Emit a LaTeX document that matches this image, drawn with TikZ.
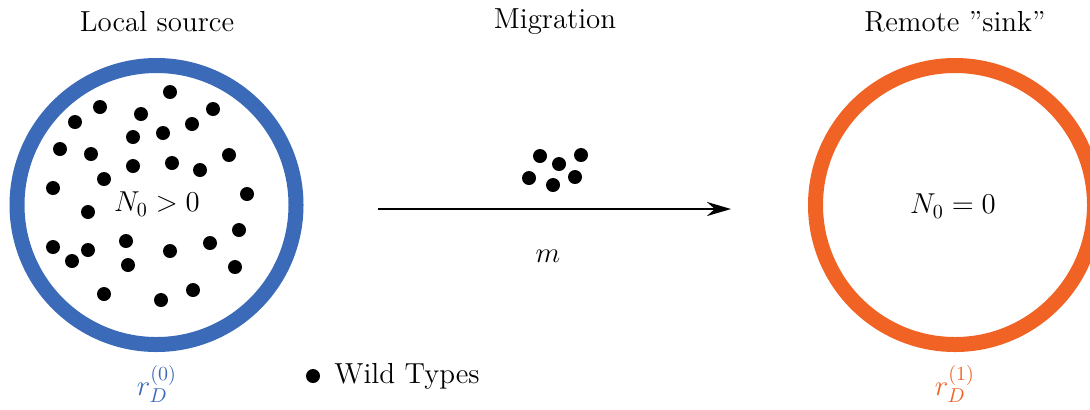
\documentclass[tikz,border=0pt]{standalone}
\usetikzlibrary{arrows.meta}
\definecolor{srcblue}{RGB}{59,106,184}
\definecolor{sinkorange}{RGB}{241,99,36}
\begin{document}
\begin{tikzpicture}[x=0.5pt,y=-0.5pt,
  lbl/.style={font=\fontsize{14.5}{17}\selectfont, inner sep=0pt},
  ring/.style={circle, line width=7.5pt, minimum size=139.5pt, inner sep=0pt},
  wt/.style={circle, fill=black, minimum size=7pt, inner sep=0pt}]
\useasboundingbox (0,0) rectangle (1090,409);
% titles
\node[lbl] (tsrc) at (157,22) {Local source};
\node[lbl] (tmig) at (555,22) {Migration};
\node[lbl] (tsink) at (955,22) {Remote ''sink''};
% rings
\node[ring, draw=srcblue] (src) at (156.5,205) {};
\node[ring, draw=sinkorange] (sink) at (955,205) {};
\node[lbl] (n0) at (157,204) {$N_0>0$};
\node[lbl] (n1) at (953,206) {$N_0=0$};
% dots in source
\foreach \p [count=\i] in {(170,92),(100,107),(141,114),(213,109),(75,122),(192,124),
  (133,137),(163,133),(60,149),(91,154),(229,155),(133,166),(172,163),(200,170),
  (104,179),(53,188),(247,194),(88,212),(239,230),(126,241),(53,247),(88,250),
  (210,243),(170,251),(72,261),(128,265),(235,267),(104,294),(161,300),(193,290)}
  \node[wt] (d\i) at \p {};
% migrating dots
\foreach \p [count=\i] in {(540,156),(559,164),(581,155),(529,178),(553,185),(575,177)}
  \node[wt] (m\i) at \p {};
% arrow
\coordinate (a0) at (378,209);
\coordinate (a1) at (731,209);
\draw[line width=1.35pt, -{Stealth[length=12pt,width=7pt]}] (a0) -- (a1);
\node[lbl] (mlab) at (548,256) {$m$};
% legend
\node[wt] (leg) at (313,376) {};
\node[lbl, anchor=west] (legt) at (334,376) {Wild Types};
% rates
\node[lbl, text=srcblue] (r0) at (157,384) {$r_D^{(0)}$};
\node[lbl, text=sinkorange] (r1) at (955,384) {$r_D^{(1)}$};
\end{tikzpicture}
\end{document}
